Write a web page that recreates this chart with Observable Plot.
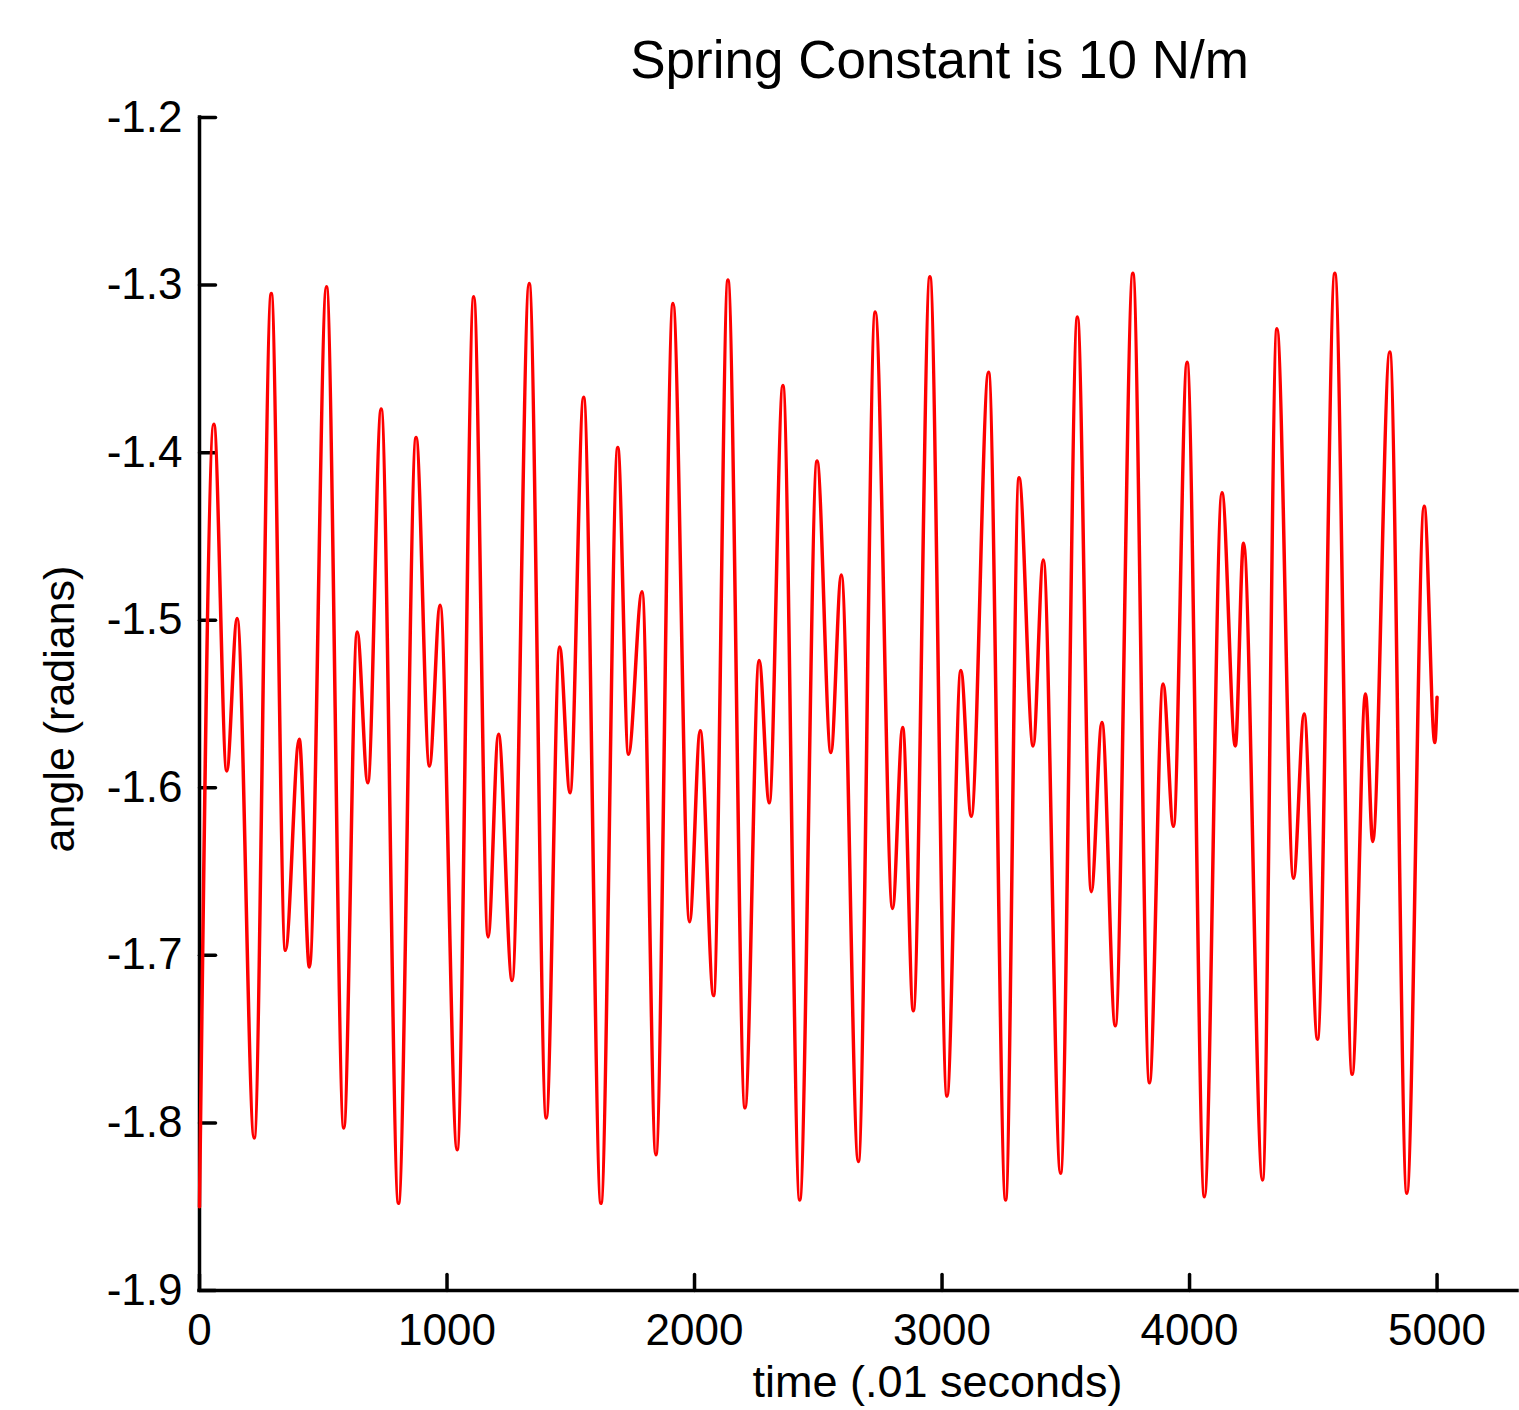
<!DOCTYPE html>
<html>
<head>
<meta charset="utf-8">
<script src="https://cdn.jsdelivr.net/npm/d3@7"></script>
<script src="https://cdn.jsdelivr.net/npm/@observablehq/plot@0.6"></script>
<style>
  body { margin: 0; background: #fff; }
  #chart svg { display: block; }
</style>
</head>
<body>
<div id="chart"></div>
<script>
// time samples (.01 s) at the turning points of the trace
const times = [0,58,110,152,221,290,347,403,444,513,583,637,680,734,804,875,929,972,1041,1108,
  1166,1208,1263,1332,1401,1455,1497,1552,1622,1690,1733,1788,1844,1913,1980,2023,2077,2135,2204,2261,
  2302,2357,2425,2495,2551,2593,2662,2730,2800,2841,2884,2951,3020,3076,3118,3188,3257,3311,3368,3409,
  3479,3547,3603,3646,3700,3771,3838,3893,3935,3990,4060,4131,4185,4218,4295,4353,4420,4463,4517,4587,
  4657,4711,4740,4809,4878,4948,4991,5000];
// angle (radians) at those times
const angles = [-1.85,-1.383,-1.590,-1.499,-1.809,-1.305,-1.697,-1.571,-1.707,-1.301,
  -1.803,-1.507,-1.597,-1.374,-1.848,-1.391,-1.587,-1.491,-1.816,-1.307,
  -1.689,-1.568,-1.715,-1.299,-1.797,-1.516,-1.603,-1.367,-1.848,-1.397,
  -1.580,-1.483,-1.819,-1.311,-1.680,-1.566,-1.724,-1.297,-1.791,-1.524,
  -1.609,-1.360,-1.846,-1.405,-1.579,-1.473,-1.823,-1.316,-1.672,-1.564,
  -1.733,-1.295,-1.784,-1.530,-1.617,-1.352,-1.846,-1.415,-1.575,-1.464,
  -1.830,-1.319,-1.662,-1.561,-1.742,-1.293,-1.776,-1.538,-1.623,-1.346,
  -1.844,-1.424,-1.575,-1.454,-1.834,-1.326,-1.654,-1.556,-1.750,-1.293,
  -1.771,-1.544,-1.632,-1.340,-1.842,-1.432,-1.573,-1.546];

const xTicks = [0, 1000, 2000, 3000, 4000, 5000];
const yTicks = [-1.9, -1.8, -1.7, -1.6, -1.5, -1.4, -1.3, -1.2];
const title = "Spring Constant is 10 N/m";
const xLabel = "time (.01 seconds)";
const yLabel = "angle (radians)";

const data = times.map((t, i) => ({t, v: angles[i]}));

const tickShape = {
  draw(context, l) { context.moveTo(0, 0); context.lineTo(0, -l); }
};

const font = "Liberation Sans, Arial, Helvetica, sans-serif";

const chart = Plot.plot({
  width: 1519,
  height: 1410,
  marginLeft: 199,
  marginRight: 2,
  marginTop: 117,
  marginBottom: 120,
  x: {domain: [0, 5325]},
  y: {domain: [-1.9, -1.2]},
  style: {fontFamily: font, background: "white", color: "black"},
  marks: [
    Plot.axisX(xTicks, {tickSize: 0, tickPadding: 23, tickFormat: d => String(d), fontSize: 44, label: null}),
    Plot.axisY(yTicks, {tickSize: 0, tickPadding: 17, tickFormat: d => d.toFixed(1), fontSize: 44, label: null}),
    Plot.vector(xTicks, {x: d => d, frameAnchor: "bottom", length: 16, anchor: "start", rotate: 0,
      shape: tickShape, stroke: "black", strokeWidth: 3.5}),
    Plot.vector(yTicks, {y: d => d, frameAnchor: "left", length: 16, anchor: "start", rotate: 90,
      shape: tickShape, stroke: "black", strokeWidth: 3.5}),
    Plot.ruleX([0], {stroke: "black", strokeWidth: 3.5, strokeLinecap: "square"}),
    Plot.ruleY([-1.9], {stroke: "black", strokeWidth: 3.5, strokeLinecap: "square"}),
    Plot.text([title], {frameAnchor: "top", dx: 81, dy: -56, textAnchor: "middle", lineAnchor: "middle", fontSize: 53, fill: "black"}),
    Plot.text([xLabel], {frameAnchor: "bottom", dx: 79, dy: 92, textAnchor: "middle", lineAnchor: "middle", fontSize: 45, fill: "black"}),
    Plot.text([yLabel], {frameAnchor: "left", dx: -139, dy: 5, rotate: -90, textAnchor: "middle", lineAnchor: "middle", fontSize: 43, fill: "black"}),
    Plot.line(data, {x: "t", y: "v", stroke: "#ff0000", strokeWidth: 3.5, curve: "monotone-x"})
  ]
});

document.getElementById("chart").appendChild(chart);
</script>
</body>
</html>
